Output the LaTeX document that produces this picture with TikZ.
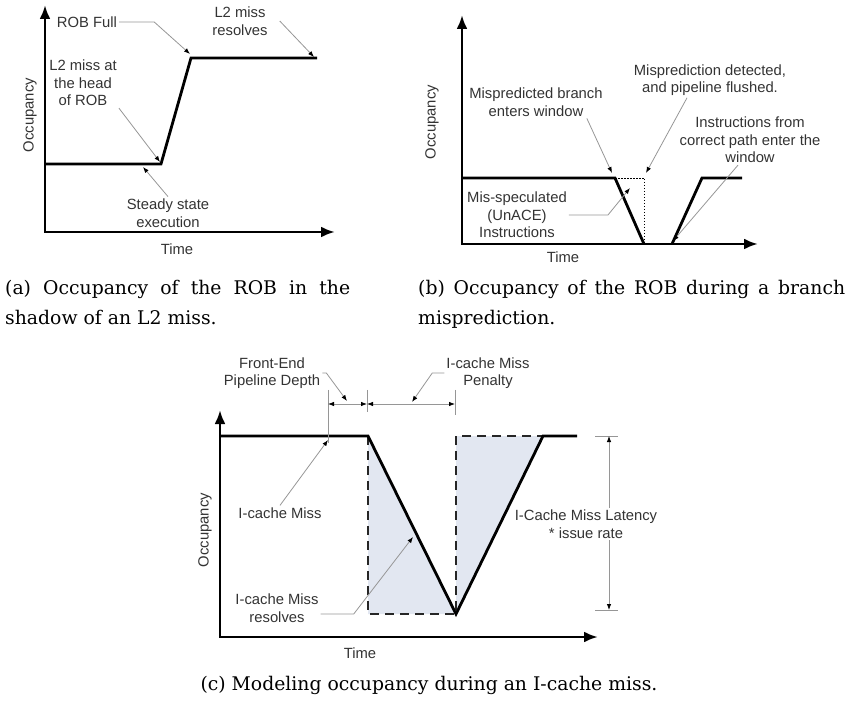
\documentclass[tikz,border=0pt]{standalone}
\usepackage{fontspec}
\newfontfamily\labelfont{Liberation Sans}
\newfontfamily\capfont{DejaVu Serif}
\usetikzlibrary{arrows.meta}

\definecolor{shadefill}{RGB}{226,231,241}
\definecolor{leadergray}{RGB}{150,150,150}

\tikzset{
  axis/.style={line width=2.8pt, {Latex[length=14pt,width=11pt]}-{Latex[length=14pt,width=11pt]}},
  occline/.style={line width=2.8pt},
  leader/.style={draw=leadergray, line width=0.8pt, -{Latex[length=6pt,width=4.5pt,color=black]}},
  dimline/.style={draw=leadergray, line width=0.8pt},
  dimarrows/.style={{Latex[length=6pt,width=4.5pt,color=black]}-{Latex[length=6pt,width=4.5pt,color=black]}},
  flushline/.style={line width=0.9pt, dash pattern=on 1.5pt off 1.5pt},
  boundline/.style={line width=1.8pt, draw=black!85, dash pattern=on 9pt off 6pt},
  lbl/.style={font=\labelfont\fontsize{14.8}{17.5}\selectfont, text=black!80, align=center, inner sep=2pt},
  captext/.style={font=\capfont\fontsize{18.8}{25}\selectfont, inner sep=0pt, anchor=base west}
}

\begin{document}
\begin{tikzpicture}[x=1pt,y=-1pt]
\useasboundingbox (0,0) rectangle (846,708);

% (a) ROB in the shadow of an L2 miss
\draw[axis] (45,5) -- (45,232) -- (335,232);
\draw[occline] (45,164) -- (161,164) -- (191,58) -- (317,58);

\node[lbl, rotate=90] (occa) at (30,115) {Occupancy};
\node[lbl] (timea) at (177,249) {Time};
\node[lbl] (robfull) at (87,22) {ROB Full};
\node[lbl] (l2res) at (240,21) {L2 miss\\resolves};
\node[lbl] (l2head) at (83,83) {L2 miss at\\the head\\of ROB};
\node[lbl] (steady) at (168,213) {Steady state\\execution};

\coordinate (robfullpt) at (190,54);
\coordinate (l2respt) at (314,57);
\coordinate (l2headpt) at (160,162);
\coordinate (steadypt) at (143,167);
\draw[leader] (robfull.east) -- ++(35,0) -- (robfullpt);
\draw[leader] ([xshift=10pt]l2res.east) -- (l2respt);
\draw[leader] (l2head.south east) -- (l2headpt);
\draw[leader] (steady.north) -- (steadypt);

% (b) branch misprediction
\draw[axis] (462,15) -- (462,244) -- (758,244);
\draw[occline] (462,178) -- (615,178) -- (644,244);
\draw[occline] (672,244) -- (702,178) -- (742,178);
\draw[flushline] (615,178) -- (644,178) -- (644,244);

\node[lbl, rotate=90] (occb) at (432,122) {Occupancy};
\node[lbl] (timeb) at (563,257) {Time};
\node[lbl] (mispbranch) at (536,102) {Mispredicted branch\\enters window};
\node[lbl] (mispdetect) at (710,80) {Misprediction detected,\\and pipeline flushed.};
\node[lbl] (correct) at (750,140) {Instructions from\\correct path enter the\\window};
\node[lbl] (misspec) at (517,215) {Mis-speculated\\(UnACE)\\Instructions};

\coordinate (mispbranchpt) at (612,173);
\coordinate (mispdetectpt) at (646,173);
\coordinate (correctpt) at (673,241);
\coordinate (misspecpt) at (630,188);
\draw[leader] ([xshift=-18pt]mispbranch.south east) -- (mispbranchpt);
\draw[leader] ([xshift=-23pt]mispdetect.south) -- (mispdetectpt);
\draw[leader] ([xshift=-12pt]correct.south) -- (correctpt);
\draw[leader] (misspec.east) -- ++(39,0) -- (misspecpt);

% (c) I-cache miss
\fill[shadefill] (368,436) -- (456,614) -- (368,614) -- cycle;
\fill[shadefill] (456,436) -- (543,436) -- (456,614) -- cycle;
\draw[boundline] (368,436) -- (368,614) -- (456,614) -- (456,436) -- (543,436);
\draw[axis] (220,410) -- (220,637) -- (598,637);
\draw[occline] (220,436) -- (368,436) -- (456,614) -- (543,436) -- (577,436);

\draw[dimline] (328,390) -- (328,443);
\draw[dimline] (367,390) -- (367,412);
\draw[dimline] (455,390) -- (455,415);
\coordinate (depthl) at (328,404);
\coordinate (depthr) at (367,404);
\coordinate (penr) at (455,404);
\draw[dimline, dimarrows] (depthl) -- (depthr);
\draw[dimline, dimarrows] (depthr) -- (penr);

\draw[dimline] (595,436) -- (618,436);
\draw[dimline] (595,610) -- (618,610);
\coordinate (lattop) at (609,436);
\coordinate (latbot) at (609,610);

\node[lbl, rotate=90] (occc) at (205,530) {Occupancy};
\node[lbl] (timec) at (360,653) {Time};
\node[lbl] (fedepth) at (272,373) {Front-End\\Pipeline Depth};
\node[lbl] (penalty) at (488,373) {I-cache Miss\\Penalty};
\node[lbl] (icmiss) at (280,513) {I-cache Miss};
\node[lbl] (icresolve) at (277,608) {I-cache Miss\\resolves};
\node[lbl] (latency) at (586,524) {I-Cache Miss Latency\\* issue rate};

\draw[dimline, -{Latex[length=6pt,width=4.5pt,color=black]}] (latency.north -| lattop) -- (lattop);
\draw[dimline, -{Latex[length=6pt,width=4.5pt,color=black]}] (latency.south -| latbot) -- (latbot);

\coordinate (fedepthpt) at (347,401);
\coordinate (penaltypt) at (412,402);
\coordinate (icmisspt) at (328,440);
\coordinate (icresolvept) at (413,537);
\draw[leader] (fedepth.east) -- ++(4,0) -- (fedepthpt);
\draw[leader] (penalty.west) -- ++(-12,0) -- (penaltypt);
\draw[leader] (icmiss.north) -- (icmisspt);
\draw[leader] ([yshift=-6pt]icresolve.east) -- ++(33,0) -- (icresolvept);

% captions
\node[captext] (capa1) at (5,295) {\makebox[345pt][s]{(a) Occupancy of the ROB in the}};
\node[captext] (capa2) at (5,325) {shadow of an L2 miss.};
\node[captext] (capb1) at (418,295) {\makebox[427pt][s]{(b) Occupancy of the ROB during a branch}};
\node[captext] (capb2) at (418,325) {misprediction.};
\node[captext, anchor=base] (capc) at (429,690) {(c) Modeling occupancy during an I-cache miss.};
\end{tikzpicture}
\end{document}
